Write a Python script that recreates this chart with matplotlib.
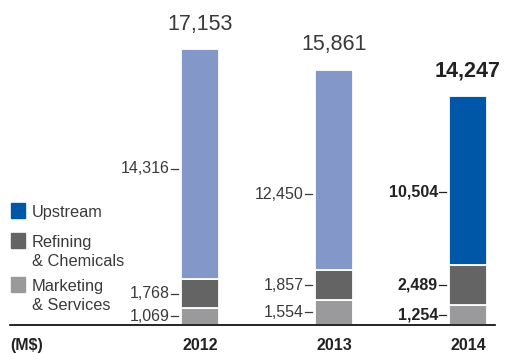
import matplotlib.pyplot as plt
from matplotlib.patches import Rectangle

plt.rcParams["font.family"] = ["Liberation Sans", "DejaVu Sans"]

years = ["2012", "2013", "2014"]
marketing = [1069, 1554, 1254]
refining = [1768, 1857, 2489]
upstream = [14316, 12450, 10504]
totals = [17153, 15861, 14247]

# where the upstream value sits inside its segment (0 = bottom, 1 = top)
upstream_label_pos = [0.48, 0.38, 0.43]

up_colors = ["#8497c9", "#8497c9", "#0057a8"]
ref_color = "#646464"
mkt_color = "#9a9a9c"
text_color = "#3a3a3a"

W, H = 505, 353
fig = plt.figure(figsize=(W / 100, H / 100), dpi=100)

# axes: baseline 28 px above the bottom, bar centres 134 px apart
px_per_unit = 134.0
ax = fig.add_axes([0, 28 / H, 1, 1 - 28 / H])
ax.set_xlim(-200 / px_per_unit, (W - 200) / px_per_unit)
ax.set_ylim(0, 20200)
ax.axis("off")

x = list(range(len(years)))
width = 38 / px_per_unit
edge = dict(edgecolor="white", linewidth=1.3)

ax.bar(x, marketing, width, color=mkt_color, **edge)
ax.bar(x, refining, width, bottom=marketing, color=ref_color, **edge)
bottoms = [m + r for m, r in zip(marketing, refining)]
ax.bar(x, upstream, width, bottom=bottoms, color=up_colors, **edge)

ax.plot([-200 / px_per_unit + 10 / px_per_unit, (W - 200 - 10) / px_per_unit],
        [0, 0], color="black", linewidth=1.2, clip_on=False)


def seg_label(xi, y, value, bold):
    left = xi - width / 2
    color = "#222222" if bold else text_color
    ax.plot([left - 10 / px_per_unit, left - 3 / px_per_unit], [y, y],
            color=color, linewidth=0.9)
    ax.text(left - 11 / px_per_unit, y, f"{value:,}", ha="right", va="center",
            fontsize=11.5, fontweight="bold" if bold else "normal",
            color=color)


for i in x:
    bold = i == len(years) - 1
    seg_label(i, marketing[i] / 2, marketing[i], bold)
    seg_label(i, marketing[i] + refining[i] / 2, refining[i], bold)
    seg_label(i, bottoms[i] + upstream[i] * upstream_label_pos[i], upstream[i], bold)
    ax.text(i, totals[i] + 900, f"{totals[i]:,}", ha="center", va="bottom",
            fontsize=15.5, fontweight="bold" if bold else "normal",
            color="#222222" if bold else text_color)
    ax.text(i, -1250, years[i], ha="center", va="center", fontsize=11.5,
            fontweight="bold", color="#222222")

ax.text(-200 / px_per_unit + 10 / px_per_unit, -1250, "(M$)", ha="left",
        va="center", fontsize=11.5, fontweight="bold", color="#222222")


def fx(px):
    return px / W


def fy(py):
    return 1 - py / H


# legend drawn directly on the figure
legend = [
    (up_colors[-1], "Upstream", 203),
    (ref_color, "Refining\n& Chemicals", 233),
    (mkt_color, "Marketing\n& Services", 277),
]
for color, label, top in legend:
    fig.add_artist(Rectangle((fx(11), fy(top + 15)), 14 / W, 15 / H,
                             transform=fig.transFigure, color=color))
    fig.text(fx(32), fy(top + 2), label, ha="left", va="top", fontsize=11.8,
             color=text_color, linespacing=1.3)

fig.savefig("out.png", dpi=100)
